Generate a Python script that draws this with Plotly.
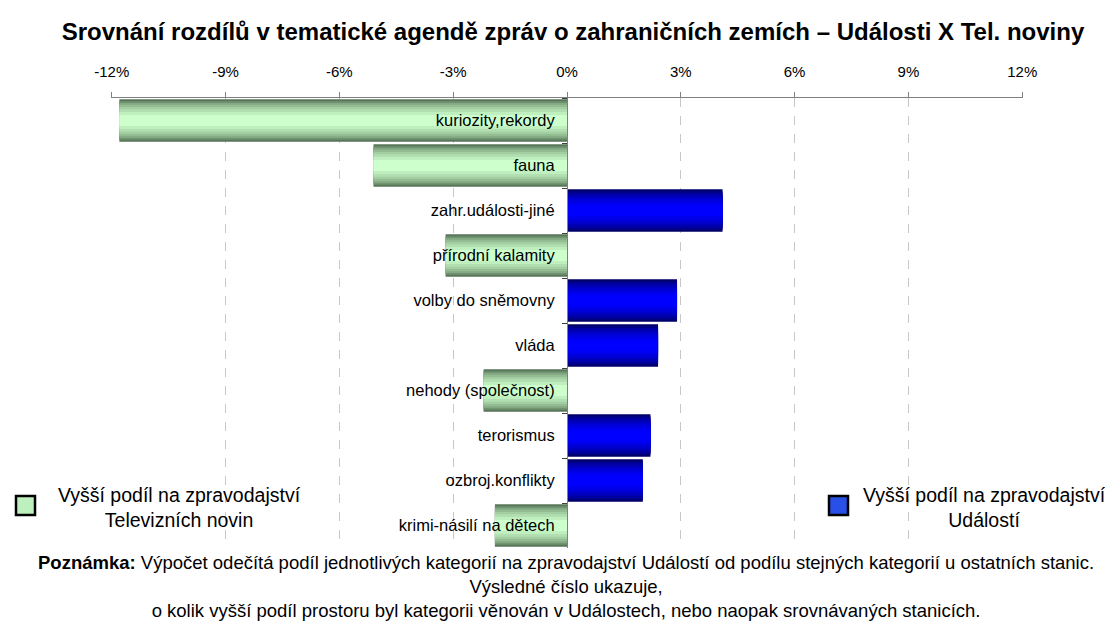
import plotly.graph_objects as go

# ---- data ----
categories = [
    "kuriozity,rekordy",
    "fauna",
    "zahr.události-jiné",
    "přírodní kalamity",
    "volby do sněmovny",
    "vláda",
    "nehody (společnost)",
    "terorismus",
    "ozbroj.konflikty",
    "krimi-násilí na dětech",
]
diff_values = [-11.8, -5.1, 4.1, -3.2, 2.9, 2.4, -2.2, 2.2, 2.0, -1.9]  # in %
tick_values = [-12, -9, -6, -3, 0, 3, 6, 9, 12]
tick_labels = ["-12%", "-9%", "-6%", "-3%", "0%", "3%", "6%", "9%", "12%"]

title_text = "Srovnání rozdílů v tematické agendě zpráv o zahraničních zemích – Události X Tel. noviny"
legend_tv = ["Vyšší podíl na zpravodajství", "Televizních novin"]
legend_ud = ["Vyšší podíl na zpravodajství", "Událostí"]
note_lines = [
    "<b>Poznámka:</b> Výpočet odečítá podíl jednotlivých kategorií na zpravodajství Událostí od podílu stejných kategorií u ostatních stanic.",
    "Výsledné číslo ukazuje,",
    "o kolik vyšší podíl prostoru byl kategorii věnován v Událostech, nebo naopak srovnávaných stanicích.",
]

tv_values = [v if v < 0 else None for v in diff_values]
ud_values = [v if v > 0 else None for v in diff_values]

# ---- styling helpers (gradient imitation with stacked overlay layers) ----
def lerp(c1, c2, t):
    return "rgb({},{},{})".format(*[round(a + (b - a) * t) for a, b in zip(c1, c2)])

layer_widths = [0.94, 0.86, 0.78, 0.70, 0.60, 0.50, 0.38, 0.24]
green_edge, green_mid = (88, 118, 88), (204, 255, 204)
blue_edge, blue_mid = (0, 0, 105), (0, 0, 255)

fig = go.Figure()
n = len(layer_widths)
for vals, edge, mid in [(tv_values, green_edge, green_mid), (ud_values, blue_edge, blue_mid)]:
    for i, w in enumerate(layer_widths):
        t = (i / (n - 1)) ** 0.8
        fig.add_trace(go.Bar(
            x=vals, y=categories, orientation="h", width=w,
            marker=dict(color=lerp(edge, mid, t), line=dict(width=0)),
            showlegend=False, hoverinfo="skip",
        ))

# page has an 8px body margin; figure sized to fit the window
OFF = 8
W, H = 1105, 620
L, T = 111 - OFF, 98 - OFF
R = W - (1023 - OFF)
B = H - (548 - OFF)
pw, ph = W - L - R, H - T - B

def px(xpage):
    return (xpage - OFF - L) / pw

def py(ypage):
    return (H - B - (ypage - OFF)) / ph

FONT = "Liberation Sans, Arial, sans-serif"

fig.update_layout(
    width=W, height=H,
    margin=dict(l=L, r=R, t=T, b=B),
    barmode="overlay",
    plot_bgcolor="white", paper_bgcolor="white",
    font=dict(family=FONT, color="black", size=15),
    title=dict(text="<b>" + title_text + "</b>", x=px(573), xref="paper", xanchor="center",
               y=1 - (32 - OFF) / H, yanchor="middle",
               font=dict(size=24, color="black")),
    xaxis=dict(
        side="top", range=[-12.02, 12.02], domain=[0, 1],
        tickvals=tick_values, ticktext=tick_labels,
        showgrid=True, gridcolor="#c8c8c8", griddash="dash", gridwidth=1,
        zeroline=False, showline=True, linecolor="#808080", linewidth=1,
        ticks="outside", ticklen=5, tickcolor="#808080",
        tickfont=dict(size=15), ticklabelstandoff=9,
    ),
    yaxis=dict(
        autorange="reversed", anchor="free", position=0.5,
        showline=True, linecolor="#808080", linewidth=1,
        ticks="outside", tickson="boundaries", ticklen=5, tickcolor="#404040",
        showgrid=False, zeroline=False, tickfont=dict(size=16.5),
        ticklabelstandoff=9,
    ),
)

# legend boxes
fig.add_shape(type="rect", xref="paper", yref="paper",
              x0=px(16), x1=px(35), y0=py(515), y1=py(496),
              fillcolor="rgb(190,240,190)", line=dict(color="black", width=2.5))
fig.add_shape(type="rect", xref="paper", yref="paper",
              x0=px(829), x1=px(848), y0=py(515), y1=py(496),
              fillcolor="rgb(40,80,230)", line=dict(color="black", width=2.5))
for lines, cx in [(legend_tv, 179), (legend_ud, 984)]:
    fig.add_annotation(xref="paper", yref="paper", x=px(cx), y=py(507.5), text="<br>".join(lines),
                       showarrow=False, xanchor="center", yanchor="middle", align="center",
                       font=dict(size=19.5))

# note (single text block, centred lines)
fig.add_annotation(xref="paper", yref="paper", x=px(566), y=py(586), text="<br>".join(note_lines),
                   showarrow=False, xanchor="center", yanchor="middle", align="center",
                   font=dict(size=18.5))

fig.write_html("out.html")
